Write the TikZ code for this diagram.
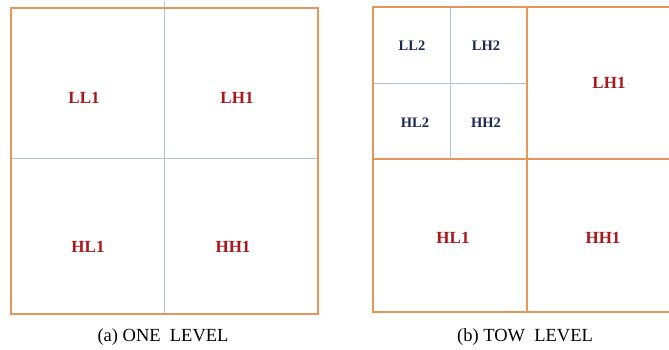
\documentclass[tikz,border=0pt]{standalone}
\usepackage{fontspec}
\setmainfont{Liberation Serif}
\usetikzlibrary{positioning}
\definecolor{frame}{RGB}{232,150,88}
\definecolor{split}{RGB}{178,196,210}
\definecolor{bandone}{RGB}{168,24,28}
\definecolor{bandtwo}{RGB}{28,40,82}

\tikzset{
  outer/.style={draw=frame, line width=2pt},
  inner/.style={draw=split, line width=0.7pt},
  lvlone/.style={text=bandone, font=\fontsize{17}{17}\selectfont\bfseries},
  lvltwo/.style={text=bandtwo, font=\fontsize{14.5}{15}\selectfont\bfseries},
  caption/.style={font=\fontsize{18.5}{19}\selectfont}
}

\begin{document}
\begin{tikzpicture}[x=1pt, y=-1pt]
  \useasboundingbox (0,0) rectangle (669,350);
  \fill[white] (0,0) rectangle (669,350);

  % (a) one level
  \draw[inner] (164,1) -- (164,314);
  \draw[inner] (11,158) -- (318,158);
  \draw[outer] (11,8) rectangle (318,314);
  \node[lvlone] (ll1a) at (84,98) {LL1};
  \node[lvlone] (lh1a) at (237,98) {LH1};
  \node[lvlone] (hl1a) at (88,247) {HL1};
  \node[lvlone] (hh1a) at (233,247) {HH1};
  \node[caption] (capa) at (163,337) {(a) ONE\ \ LEVEL};

  % (b) two levels
  \draw[inner] (450,7) -- (450,159);
  \draw[inner] (373,83) -- (527,83);
  \draw[outer] (672,7) -- (373,7) -- (373,312) -- (672,312);
  \draw[outer] (527,7) -- (527,312);
  \draw[outer] (373,159) -- (672,159);
  \node[lvltwo] (ll2) at (412,46) {LL2};
  \node[lvltwo] (lh2) at (486,46) {LH2};
  \node[lvltwo] (hl2) at (415,123) {HL2};
  \node[lvltwo] (hh2) at (486,123) {HH2};
  \node[lvlone] (lh1b) at (609,83) {LH1};
  \node[lvlone] (hl1b) at (453,238) {HL1};
  \node[lvlone] (hh1b) at (603,238) {HH1};
  \node[caption] (capb) at (525,337) {(b) TOW\ \ LEVEL};
\end{tikzpicture}
\end{document}
